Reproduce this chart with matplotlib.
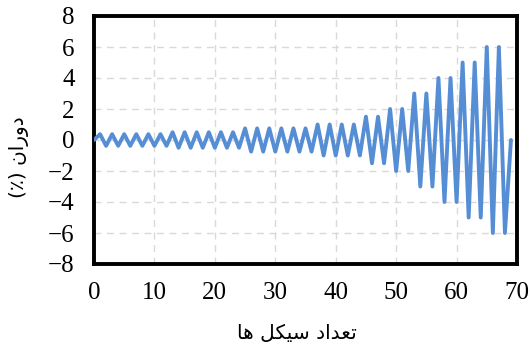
import matplotlib
matplotlib.use("Agg")
import matplotlib.pyplot as plt
from matplotlib import font_manager
from matplotlib.ft2font import FT2Font

# ---- data ----
cycles = list(range(0, 70))
rotation = [0,
            0.375, -0.375, 0.375, -0.375, 0.375, -0.375, 0.375, -0.375, 0.375, -0.375, 0.375, -0.375,
            0.5, -0.5, 0.5, -0.5, 0.5, -0.5, 0.5, -0.5, 0.5, -0.5, 0.5, -0.5,
            0.75, -0.75, 0.75, -0.75, 0.75, -0.75, 0.75, -0.75, 0.75, -0.75, 0.75, -0.75,
            1.0, -1.0, 1.0, -1.0, 1.0, -1.0, 1.0, -1.0,
            1.5, -1.5, 1.5, -1.5,
            2, -2, 2, -2,
            3, -3, 3, -3,
            4, -4, 4, -4,
            5, -5, 5, -5,
            6, -6, 6, -6,
            0]
x_ticks = [0, 10, 20, 30, 40, 50, 60, 70]
y_ticks = [-8, -6, -4, -2, 0, 2, 4, 6, 8]

plt.rcParams["font.family"] = ["Liberation Serif", "DejaVu Sans"]

# ---- Arabic text, shaped by hand (visual order, presentation forms) ----
arab_font = font_manager.findfont("DejaVu Sans")
cmap = FT2Font(arab_font).get_charmap()
yeh_med = "\uFBFF" if 0xFBFF in cmap else "\uFEF4"
keheh_med = "\uFB91" if 0xFB91 in cmap else "\uFEDC"
# تعداد سیکل ها
xlabel = ("\uFE8E\uFEEB" + " " + "\uFEDE" + keheh_med + yeh_med + "\uFEB3" + " "
          + "\uFEA9\uFE8D\uFEAA\uFECC\uFE97")
# دوران (٪)
ylabel = "(\u066A) " + "\uFEE5\uFE8D\uFEAD\uFEED\uFEA9"

fig = plt.figure(figsize=(5.30, 3.44), dpi=100)
ax = fig.add_axes([94/530, 1 - 264/344, (517-94)/530, (264-16)/344])

ax.plot(cycles, rotation, color="#558ED5", linewidth=2.8, solid_joinstyle="round",
        solid_capstyle="round", zorder=3)

ax.set_xlim(0, 70)
ax.set_ylim(-8, 8)
ax.set_xticks(x_ticks)
ax.set_yticks(y_ticks)
ax.grid(True, color="#d9d9d9", linestyle=(0, (5, 4)), linewidth=1.0, zorder=0)

for s in ax.spines.values():
    s.set_linewidth(2.8)
    s.set_color("black")

ax.tick_params(axis="both", length=0, labelsize=18)
ax.tick_params(axis="x", pad=13)
ax.tick_params(axis="y", pad=14)

fig.text(297/530, 1 - 334/344, xlabel, ha="center", va="center",
         fontsize=14.5, family=["DejaVu Sans"])
fig.text(19/530, 1 - 157/344, ylabel, ha="center", va="center", rotation=90,
         fontsize=14.5, family=["DejaVu Sans"])

fig.savefig("out.png", dpi=100)
